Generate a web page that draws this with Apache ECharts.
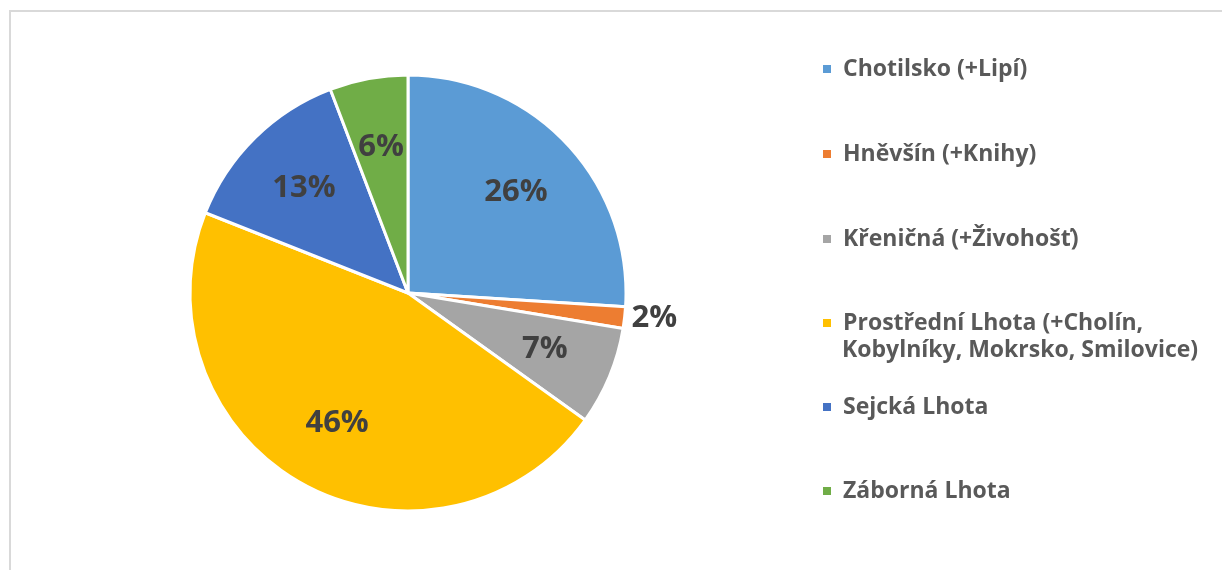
<!DOCTYPE html>
<html>
<head>
<meta charset="utf-8">
<script src="https://cdn.jsdelivr.net/npm/echarts@6/dist/echarts.min.js"></script>
<style>
  html, body { margin: 0; padding: 0; background: #fff; overflow: hidden; }
  #frame { position: absolute; left: 9px; top: 10px; width: 1400px; height: 800px; border: 2px solid #d9d9d9; }
  #chart { position: absolute; left: 0; top: 0; width: 1222px; height: 570px; }
</style>
</head>
<body>
<div id="frame"></div>
<div id="chart"></div>
<script>
// obce a jejich podíl
var names = ['Chotilsko (+Lipí)', 'Hněvšín (+Knihy)', 'Křeničná (+Živohošť)',
    'Prostřední Lhota (+Cholín, Kobylníky, Mokrsko, Smilovice)', 'Sejcká Lhota', 'Záborná Lhota'];
var values = [26.0, 1.6, 7.3, 46.1, 13.2, 5.8];
var colors = ['#5B9BD5', '#ED7D31', '#A5A5A5', '#FFC000', '#4472C4', '#70AD47'];
var outsideLabel = [false, true, false, false, false, false];
// text legendy (dlouhý název je zalomený na dva řádky)
var legendLine1 = ['Chotilsko (+Lipí)', 'Hněvšín (+Knihy)', 'Křeničná (+Živohošť)',
    'Prostřední Lhota (+Cholín,', 'Sejcká Lhota', 'Záborná Lhota'];
var legendLine2 = 'Kobylníky, Mokrsko, Smilovice)';

var font = '"Open Sans", sans-serif';
var chart = echarts.init(document.getElementById('chart'));

var mainData = names.map(function (n, i) {
    return { name: n, value: values[i], label: { show: outsideLabel[i] } };
});
var labelData = names.map(function (n, i) {
    return { name: n, value: values[i], label: { show: !outsideLabel[i] } };
});

var pctFmt = function (p) { return Math.round(p.percent) + '%'; };
var labelStyle = { color: '#404040', fontSize: 31, fontWeight: 'bold', fontFamily: font };
var legendText = { color: '#595959', fontSize: 23, fontWeight: 'bold', fontFamily: font, lineHeight: 32 };

// legendy - každá položka zvlášť kvůli rozestupům
var legendTops = [53, 138, 223, 307, 391, 475];
var legends = names.map(function (n, i) {
    return {
        data: [n],
        left: 821,
        top: legendTops[i],
        padding: 0,
        icon: 'rect',
        itemWidth: 10,
        itemHeight: 10,
        selectedMode: false,
        formatter: function () { return legendLine1[i]; },
        textStyle: Object.assign({ padding: [0, 0, 0, 6] }, legendText)
    };
});

chart.setOption({
    animation: false,
    color: colors,
    legend: legends,
    graphic: [{
        type: 'text',
        left: 842,
        top: 339,
        silent: true,
        style: Object.assign({ text: legendLine2, fill: legendText.color,
            font: 'bold 23px ' + font }, {})
    }],
    series: [
        {
            type: 'pie',
            center: [408, 293],
            radius: [0, 218],
            startAngle: 90,
            clockwise: true,
            data: mainData,
            itemStyle: { borderColor: '#fff', borderWidth: 3 },
            label: Object.assign({ position: 'outside', formatter: pctFmt, alignTo: 'none' }, labelStyle),
            labelLine: { show: false, length: 2, length2: 0 },
            emphasis: { disabled: true }
        },
        {
            // neviditelná vrstva jen pro popisky uvnitř výsečí
            type: 'pie',
            center: [408, 293],
            radius: [0, 290],
            startAngle: 90,
            clockwise: true,
            silent: true,
            data: labelData,
            itemStyle: { color: 'rgba(0,0,0,0)', borderWidth: 0 },
            label: Object.assign({ position: 'inside', formatter: pctFmt }, labelStyle),
            labelLine: { show: false },
            emphasis: { disabled: true }
        }
    ]
});

window.addEventListener('resize', function () { chart.resize(); });
</script>
</body>
</html>
